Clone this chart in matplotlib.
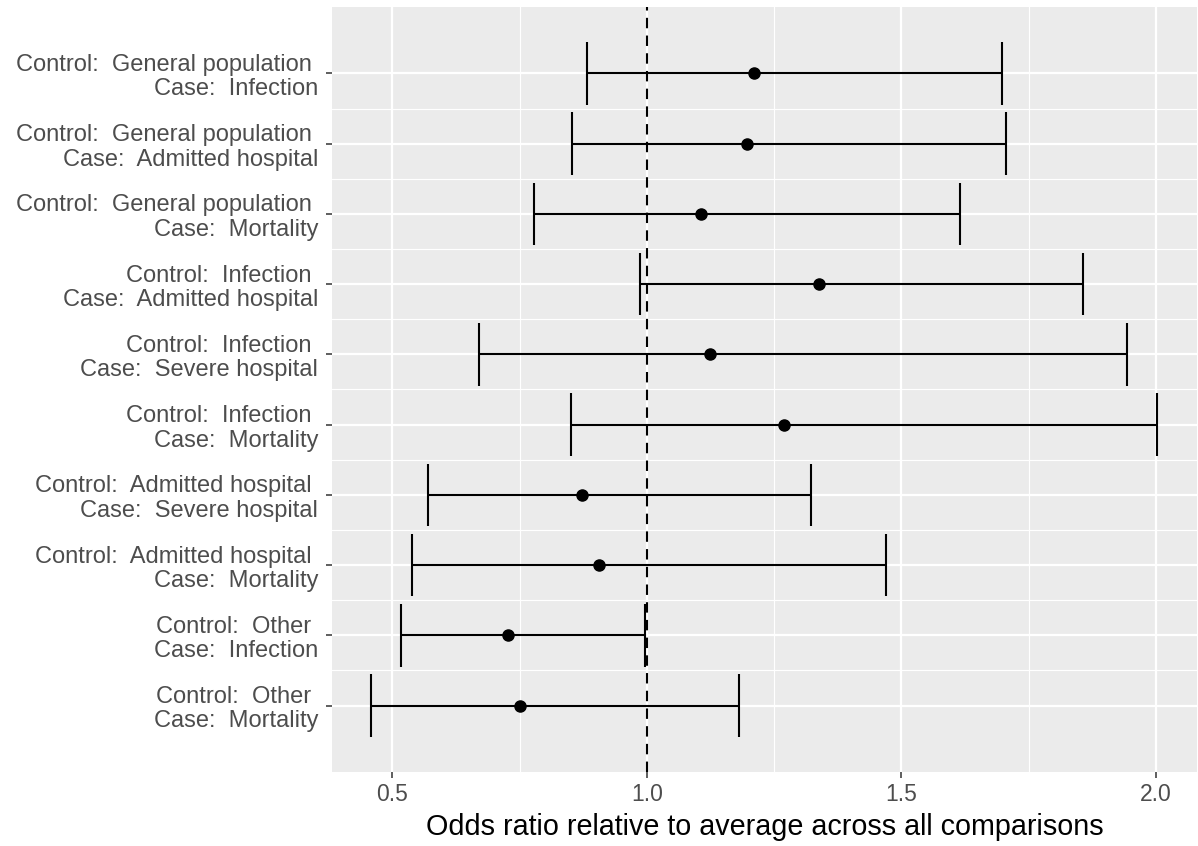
import numpy as np
import matplotlib.pyplot as plt

plt.rcParams['font.family'] = ['Liberation Sans', 'DejaVu Sans']

# Comparison labels (top to bottom) and odds ratio estimates with 95% CI
controls = ["General population", "General population", "General population",
            "Infection", "Infection", "Infection",
            "Admitted hospital", "Admitted hospital",
            "Other", "Other"]
cases = ["Infection", "Admitted hospital", "Mortality",
         "Admitted hospital", "Severe hospital", "Mortality",
         "Severe hospital", "Mortality",
         "Infection", "Mortality"]
odds_ratio = [1.211, 1.196, 1.106, 1.338, 1.125, 1.270, 0.873, 0.906, 0.727, 0.751]
ci_lower = [0.882, 0.853, 0.779, 0.987, 0.670, 0.852, 0.570, 0.539, 0.517, 0.459]
ci_upper = [1.698, 1.706, 1.615, 1.856, 1.944, 2.002, 1.322, 1.469, 0.997, 1.181]

labels = [f"Control:  {c} \nCase:  {k}" for c, k in zip(controls, cases)]
ypos = np.arange(1, len(labels) + 1)

fig = plt.figure(figsize=(11.98, 8.46), dpi=100)
ax = fig.add_axes([0.2771, 0.0875, 0.7221, 0.9042])
ax.set_facecolor('#EBEBEB')

# ggplot-like grid
for x in [0.75, 1.25, 1.75]:
    ax.axvline(x, color='white', lw=0.8, zorder=0)
for y in np.arange(1.5, len(labels), 1.0):
    ax.axhline(y, color='white', lw=0.8, zorder=0)
for x in [0.5, 1.0, 1.5, 2.0]:
    ax.axvline(x, color='white', lw=1.6, zorder=0)
for y in ypos:
    ax.axhline(y, color='white', lw=1.6, zorder=0)

# Reference line at OR = 1
ax.axvline(1.0, color='black', lw=1.5, ls=(0, (5, 3.5)), zorder=1)

# Error bars with caps
half = 0.445
ax.hlines(ypos, ci_lower, ci_upper, color='black', lw=1.5, zorder=2)
ax.vlines(ci_lower, ypos - half, ypos + half, color='black', lw=1.5, zorder=2)
ax.vlines(ci_upper, ypos - half, ypos + half, color='black', lw=1.5, zorder=2)
ax.plot(odds_ratio, ypos, 'o', color='black', ms=8, zorder=3)

ax.set_xlim(0.3815, 2.081)
ax.set_ylim(10.945, 0.055)
ax.set_xticks([0.5, 1.0, 1.5, 2.0])
ax.set_xticklabels(['0.5', '1.0', '1.5', '2.0'], fontsize=16.5)
ax.set_yticks(ypos)
ax.set_yticklabels(labels, ha='right', multialignment='right',
                   linespacing=1.14, fontsize=17)

for s in ax.spines.values():
    s.set_visible(False)
ax.tick_params(axis='both', colors='#333333', length=4, width=1.1,
               labelcolor='#4D4D4D')
ax.tick_params(axis='x', pad=4)
ax.tick_params(axis='y', pad=6)

ax.set_xlabel('Odds ratio relative to average across all comparisons',
              fontsize=20.7, color='black', labelpad=5)

fig.savefig('out.png', dpi=100)
